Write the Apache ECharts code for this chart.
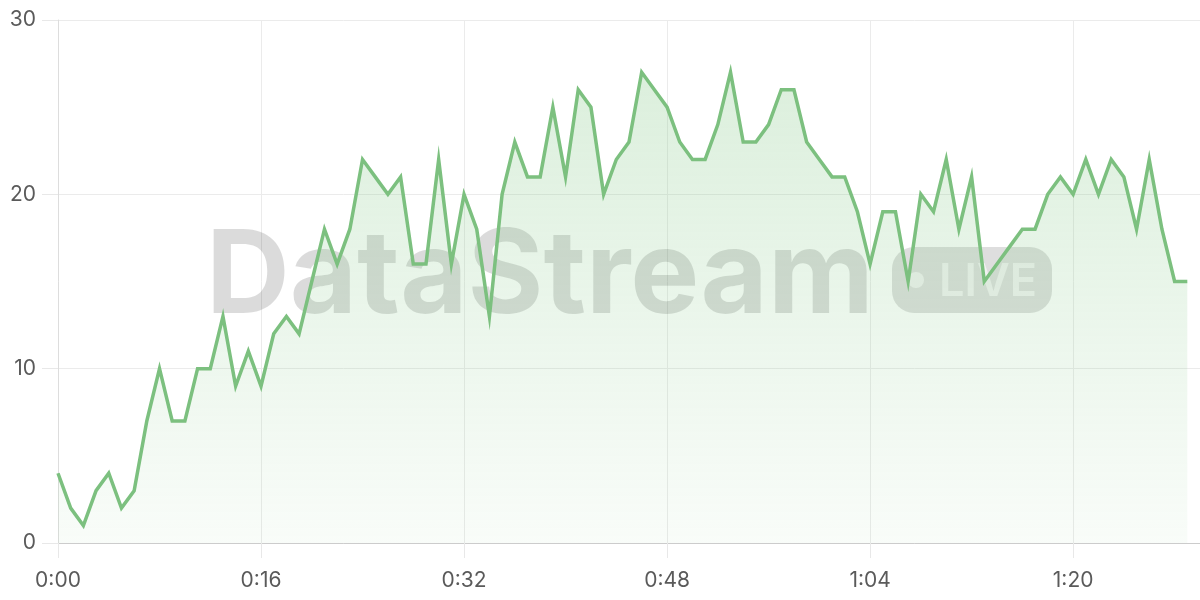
<!DOCTYPE html>
<html>
<head>
<meta charset="utf-8">
<script src="https://cdn.jsdelivr.net/npm/echarts@6/dist/echarts.min.js"></script>
<style>
html,body{margin:0;padding:0;background:#fff;}
#chart{width:1200px;height:600px;}
</style>
</head>
<body>
<div id="chart"></div>
<script>
// Values per second (index = seconds since 0:00)
const values = [4,2,1,3,4,2,3,7,10,7,7,10,10,13,9,11,9,12,13,12,
  15,18,16,18,22,21,20,21,16,16,22,16,20,18,13,20,23,21,21,25,
  21,26,25,20,22,23,27,26,25,23,22,22,24,27,23,23,24,26,26,23,
  22,21,21,19,16,19,19,15,20,19,22,18,21,15,16,17,18,18,20,21,
  20,22,20,22,21,18,22,18,15,15];
const axisSeconds = 90; // axis spans 0:00 .. 1:30
const categories = [];
for (let s = 0; s <= axisSeconds; s++) {
  categories.push(Math.floor(s / 60) + ':' + String(s % 60).padStart(2, '0'));
}
const yTicks = [0, 10, 20, 30];
const watermarkText = 'DataStream';
const badgeText = 'LIVE';

const chart = echarts.init(document.getElementById('chart'));
chart.setOption({
  animation: false,
  grid: { left: 58, right: 0, top: 20, bottom: 57, containLabel: false },
  xAxis: {
    type: 'category',
    data: categories,
    boundaryGap: false,
    axisLine: { show: true, lineStyle: { color: '#cccccc', width: 1 } },
    axisTick: { show: true, length: 15, interval: 15, lineStyle: { color: '#e8e8e8' } },
    axisLabel: { interval: 15, margin: 27, color: '#5a5a5a', fontSize: 21, fontFamily: 'Inter' },
    splitLine: { show: true, interval: 15, lineStyle: { color: '#ebebeb' } }
  },
  yAxis: {
    type: 'value',
    min: yTicks[0], max: yTicks[yTicks.length - 1], interval: 10,
    axisLine: { show: true, lineStyle: { color: '#dddddd' } },
    axisTick: { show: true, length: 16, lineStyle: { color: '#e8e8e8' } },
    axisLabel: { margin: 22, color: '#5a5a5a', fontSize: 21, fontFamily: 'Inter' },
    splitLine: { show: true, lineStyle: { color: '#ebebeb' } }
  },
  graphic: [
    { type: 'text', z: 1, silent: true,
      style: { text: watermarkText, x: 206, y: 278, textVerticalAlign: 'middle',
        font: 'bold 116px Inter', fill: 'rgba(0,0,0,0.14)' } },
    { type: 'rect', z: 1, silent: true,
      shape: { x: 892, y: 247, width: 160, height: 66, r: 22 },
      style: { fill: 'rgba(0,0,0,0.13)' } },
    { type: 'circle', z: 1, silent: true,
      shape: { cx: 916, cy: 280, r: 8 },
      style: { fill: 'rgba(255,255,255,0.6)' } },
    { type: 'text', z: 1, silent: true,
      style: { text: badgeText, x: 939, y: 282, textVerticalAlign: 'middle',
        font: '600 45px Inter', fill: 'rgba(255,255,255,0.6)' } }
  ],
  series: [{
    type: 'line',
    data: values,
    symbol: 'none',
    lineStyle: { color: '#7cc07f', width: 3.5, join: 'miter' },
    areaStyle: {
      color: new echarts.graphic.LinearGradient(0, 0, 0, 1, [
        { offset: 0, color: 'rgba(129,199,132,0.4)' },
        { offset: 1, color: 'rgba(129,199,132,0.07)' }
      ])
    },
    z: 2
  }]
});
</script>
</body>
</html>
